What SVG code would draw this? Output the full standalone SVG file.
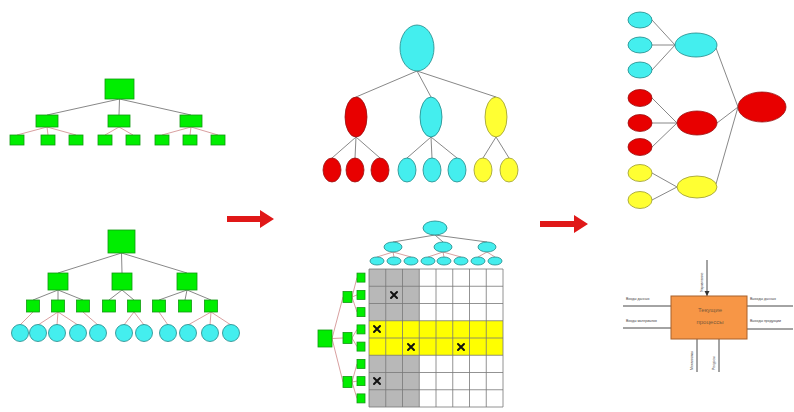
<svg xmlns="http://www.w3.org/2000/svg" width="794" height="412" viewBox="0 0 794 412">
<style>
.g{fill:#00ee00;stroke:#119911;stroke-width:0.8}
.c{fill:#44eeee;stroke:#228888;stroke-width:0.8}
.r{fill:#e80000;stroke:#991111;stroke-width:0.8}
.y{fill:#ffff33;stroke:#999933;stroke-width:0.8}
.ln{stroke:#888;stroke-width:1;fill:none}
.pk{stroke:#d9a0a0;stroke-width:1;fill:none}
.grid{stroke:#777;stroke-width:0.8;fill:none}
.xm{stroke:#111;stroke-width:2;stroke-linecap:round}
.lab{font-family:"Liberation Sans",Arial,sans-serif;font-size:3.5px;fill:#444}
.box{font-family:"Liberation Sans",Arial,sans-serif;font-size:6px;fill:#7a5a3a;text-anchor:middle}
.ar{fill:#e01818}
.io{stroke:#333;stroke-width:0.9;fill:none}
</style>
<defs>
<marker id="ah" markerWidth="6" markerHeight="6" refX="5" refY="3" orient="auto" markerUnits="userSpaceOnUse">
<path d="M0,0.5 L5,3 L0,5.5 z" fill="#333"/>
</marker>
</defs>

<g id="connectors">
<!-- left top tree -->
<path class="ln" d="M119.5,99 L47,115 M119.5,99 L119,115 M119.5,99 L191,115"/>
<path class="pk" d="M47,127 L17,135 M47,127 L48,135 M47,127 L76,135 M119,127 L105,135 M119,127 L133,135 M191,127 L162,135 M191,127 L190,135 M191,127 L218,135"/>
<!-- left bottom tree -->
<path class="ln" d="M121.5,253 L58,273 M121.5,253 L122,273 M121.5,253 L187,273"/>
<path class="ln" d="M58,290 L33,300 M58,290 L58,300 M58,290 L83,300 M122,290 L109,300 M122,290 L134,300 M187,290 L159,300 M187,290 L185,300 M187,290 L211,300"/>
<path class="pk" d="M33,312 L20,325 M58,312 L38,325 M58,312 L57,325 M58,312 L78,325 M83,312 L98,325 M134,312 L124,325 M134,312 L144,325 M159,312 L168,325 M211,312 L188,325 M211,312 L210,325 M211,312 L231,325"/>
<!-- middle top tree -->
<path class="ln" d="M417,71 L356,97 M417,71 L431,97 M417,71 L496,97"/>
<path class="ln" d="M356,137 L332,158 M356,137 L355,158 M356,137 L380,158 M431,137 L407,158 M431,137 L432,158 M431,137 L457,158 M496,137 L483,158 M496,137 L509,158"/>
<!-- middle bottom cyan tree -->
<path class="ln" d="M435,235 L393,242 M435,235 L443,242 M435,235 L487,242"/>
<path class="pk" d="M393,252 L377,257 M393,252 L394,257 M393,252 L411,257 M443,252 L428,257 M443,252 L444,257 M443,252 L461,257 M487,252 L478,257 M487,252 L495,257"/>
<!-- middle bottom green tree -->
<path class="pk" d="M332,338.5 L343,297 M332,338.5 L343,338 M332,338.5 L343,382"/>
<path class="pk" d="M352,297 L357,277.6 M352,297 L357,294.9 M352,297 L357,312.1 M352,338 L357,329.4 M352,338 L357,346.6 M352,382 L357,363.9 M352,382 L357,381.1 M352,382 L357,398.4"/>
<!-- right top -->
<path class="ln" d="M652,20 L675,45 M652,45 L675,45 M652,70 L675,45"/>
<path class="ln" d="M652,98 L677,123 M652,123 L677,123 M652,147 L677,123"/>
<path class="ln" d="M652,173 L677,187 M652,200 L677,187"/>
<path class="ln" d="M716,48 L738,107 M717,123 L738,107 M716,184 L738,107"/>
</g>

<!-- left top tree -->
<g id="lt-root"><rect class="g" x="105" y="79" width="29" height="20"/></g>
<g id="lt-l2">
<rect class="g" x="36" y="115" width="22" height="12"/>
<rect class="g" x="108" y="115" width="22" height="12"/>
<rect class="g" x="180" y="115" width="22" height="12"/>
</g>
<g id="lt-l3">
<rect class="g" x="10" y="135" width="14" height="10"/>
<rect class="g" x="41" y="135" width="14" height="10"/>
<rect class="g" x="69" y="135" width="14" height="10"/>
<rect class="g" x="98" y="135" width="14" height="10"/>
<rect class="g" x="126" y="135" width="14" height="10"/>
<rect class="g" x="155" y="135" width="14" height="10"/>
<rect class="g" x="183" y="135" width="14" height="10"/>
<rect class="g" x="211" y="135" width="14" height="10"/>
</g>

<!-- left bottom tree -->
<g id="lb-root"><rect class="g" x="108" y="230" width="27" height="23"/></g>
<g id="lb-l2">
<rect class="g" x="48" y="273" width="20" height="17"/>
<rect class="g" x="112" y="273" width="20" height="17"/>
<rect class="g" x="177" y="273" width="20" height="17"/>
</g>
<g id="lb-l3">
<rect class="g" x="26.5" y="300" width="13" height="12"/>
<rect class="g" x="51.5" y="300" width="13" height="12"/>
<rect class="g" x="76.5" y="300" width="13" height="12"/>
<rect class="g" x="102.5" y="300" width="13" height="12"/>
<rect class="g" x="127.5" y="300" width="13" height="12"/>
<rect class="g" x="152.5" y="300" width="13" height="12"/>
<rect class="g" x="178.5" y="300" width="13" height="12"/>
<rect class="g" x="204.5" y="300" width="13" height="12"/>
</g>
<g id="lb-leaves">
<circle class="c" cx="20" cy="333" r="8.5"/>
<circle class="c" cx="38" cy="333" r="8.5"/>
<circle class="c" cx="57" cy="333" r="8.5"/>
<circle class="c" cx="78" cy="333" r="8.5"/>
<circle class="c" cx="98" cy="333" r="8.5"/>
<circle class="c" cx="124" cy="333" r="8.5"/>
<circle class="c" cx="144" cy="333" r="8.5"/>
<circle class="c" cx="168" cy="333" r="8.5"/>
<circle class="c" cx="188" cy="333" r="8.5"/>
<circle class="c" cx="210" cy="333" r="8.5"/>
<circle class="c" cx="231" cy="333" r="8.5"/>
</g>

<!-- arrows -->
<g id="arrow1"><polygon class="ar" points="227,216 260,216 260,210 274,219 260,228 260,222 227,222"/></g>
<g id="arrow2"><polygon class="ar" points="540,221 574,221 574,215 588,224 574,233 574,227 540,227"/></g>

<!-- middle top tree -->
<g id="mt-root"><ellipse class="c" cx="417" cy="48" rx="17" ry="23"/></g>
<g id="mt-l2">
<ellipse class="r" cx="356" cy="117" rx="11" ry="20"/>
<ellipse class="c" cx="431" cy="117" rx="11" ry="20"/>
<ellipse class="y" cx="496" cy="117" rx="11" ry="20"/>
</g>
<g id="mt-l3">
<ellipse class="r" cx="332" cy="170" rx="9" ry="12"/>
<ellipse class="r" cx="355" cy="170" rx="9" ry="12"/>
<ellipse class="r" cx="380" cy="170" rx="9" ry="12"/>
<ellipse class="c" cx="407" cy="170" rx="9" ry="12"/>
<ellipse class="c" cx="432" cy="170" rx="9" ry="12"/>
<ellipse class="c" cx="457" cy="170" rx="9" ry="12"/>
<ellipse class="y" cx="483" cy="170" rx="9" ry="12"/>
<ellipse class="y" cx="509" cy="170" rx="9" ry="12"/>
</g>

<!-- middle bottom matrix -->
<g id="matrix">
<rect x="369" y="269" width="134" height="138" fill="#fff"/>
<rect x="369" y="269" width="50.25" height="138" fill="#b8b8b8"/>
<rect x="369" y="320.75" width="134" height="34.5" fill="#ffff00"/>
<path class="grid" d="M369,269 V407 M385.75,269 V407 M402.5,269 V407 M419.25,269 V407 M436,269 V407 M452.75,269 V407 M469.5,269 V407 M486.25,269 V407 M503,269 V407"/>
<path class="grid" d="M369,269 H503 M369,286.25 H503 M369,303.5 H503 M369,320.75 H503 M369,338 H503 M369,355.25 H503 M369,372.5 H503 M369,389.75 H503 M369,407 H503"/>
<path class="xm" d="M391,292 l6,6 m0,-6 l-6,6 M374,326 l6,6 m0,-6 l-6,6 M408,344 l6,6 m0,-6 l-6,6 M458,344 l6,6 m0,-6 l-6,6 M374,378 l6,6 m0,-6 l-6,6"/>
</g>
<g id="mb-cyan-root"><ellipse class="c" cx="435" cy="228" rx="12" ry="7"/></g>
<g id="mb-cyan-l2">
<ellipse class="c" cx="393" cy="247" rx="9" ry="5"/>
<ellipse class="c" cx="443" cy="247" rx="9" ry="5"/>
<ellipse class="c" cx="487" cy="247" rx="9" ry="5"/>
</g>
<g id="mb-cyan-l3">
<ellipse class="c" cx="377" cy="261" rx="7" ry="4"/>
<ellipse class="c" cx="394" cy="261" rx="7" ry="4"/>
<ellipse class="c" cx="411" cy="261" rx="7" ry="4"/>
<ellipse class="c" cx="428" cy="261" rx="7" ry="4"/>
<ellipse class="c" cx="444" cy="261" rx="7" ry="4"/>
<ellipse class="c" cx="461" cy="261" rx="7" ry="4"/>
<ellipse class="c" cx="478" cy="261" rx="7" ry="4"/>
<ellipse class="c" cx="495" cy="261" rx="7" ry="4"/>
</g>
<g id="mb-green-root"><rect class="g" x="318" y="330" width="14" height="17"/></g>
<g id="mb-green-l2">
<rect class="g" x="343" y="291.5" width="9" height="11"/>
<rect class="g" x="343" y="332.5" width="9" height="11"/>
<rect class="g" x="343" y="376.5" width="9" height="11"/>
</g>
<g id="mb-green-l3">
<rect class="g" x="357" y="273.1" width="8" height="9"/>
<rect class="g" x="357" y="290.4" width="8" height="9"/>
<rect class="g" x="357" y="307.6" width="8" height="9"/>
<rect class="g" x="357" y="324.9" width="8" height="9"/>
<rect class="g" x="357" y="342.1" width="8" height="9"/>
<rect class="g" x="357" y="359.4" width="8" height="9"/>
<rect class="g" x="357" y="376.6" width="8" height="9"/>
<rect class="g" x="357" y="393.9" width="8" height="9"/>
</g>

<!-- right top -->
<g id="rt-leaves">
<ellipse class="c" cx="640" cy="20" rx="12" ry="8"/>
<ellipse class="c" cx="640" cy="45" rx="12" ry="8"/>
<ellipse class="c" cx="640" cy="70" rx="12" ry="8"/>
<ellipse class="r" cx="640" cy="98" rx="12" ry="8.5"/>
<ellipse class="r" cx="640" cy="123" rx="12" ry="8.5"/>
<ellipse class="r" cx="640" cy="147" rx="12" ry="8.5"/>
<ellipse class="y" cx="640" cy="173" rx="12" ry="8.5"/>
<ellipse class="y" cx="640" cy="200" rx="12" ry="8.5"/>
</g>
<g id="rt-mid">
<ellipse class="c" cx="696" cy="45" rx="21" ry="12"/>
<ellipse class="r" cx="697" cy="123" rx="20" ry="12"/>
<ellipse class="y" cx="697" cy="187" rx="20" ry="11"/>
</g>
<g id="rt-root"><ellipse class="r" cx="762" cy="107" rx="24" ry="15"/></g>

<!-- right bottom process box -->
<g id="process">
<path class="io" marker-end="url(#ah)" d="M623,306 H671 M623,328 H671 M747,306 H793 M747,329 H793 M707,260 V296"/>
<path class="io" d="M697,339 V372 M719,339 V372"/>
<rect x="671" y="296" width="76" height="43" fill="#f79646" stroke="#a8602a" stroke-width="1"/>
<text class="box" x="710" y="312">Текущие</text>
<text class="box" x="710" y="324">процессы</text>
<text class="lab" x="626" y="300">Входы данных</text>
<text class="lab" x="626" y="322">Входы материалов</text>
<text class="lab" x="750" y="300">Выходы данных</text>
<text class="lab" x="750" y="322">Выходы продукции</text>
<text class="lab" transform="translate(703,292) rotate(-90)">Управление</text>
<text class="lab" transform="translate(693,370) rotate(-90)">Механизмы</text>
<text class="lab" transform="translate(715,370) rotate(-90)">Ресурсы</text>
</g>
</svg>
